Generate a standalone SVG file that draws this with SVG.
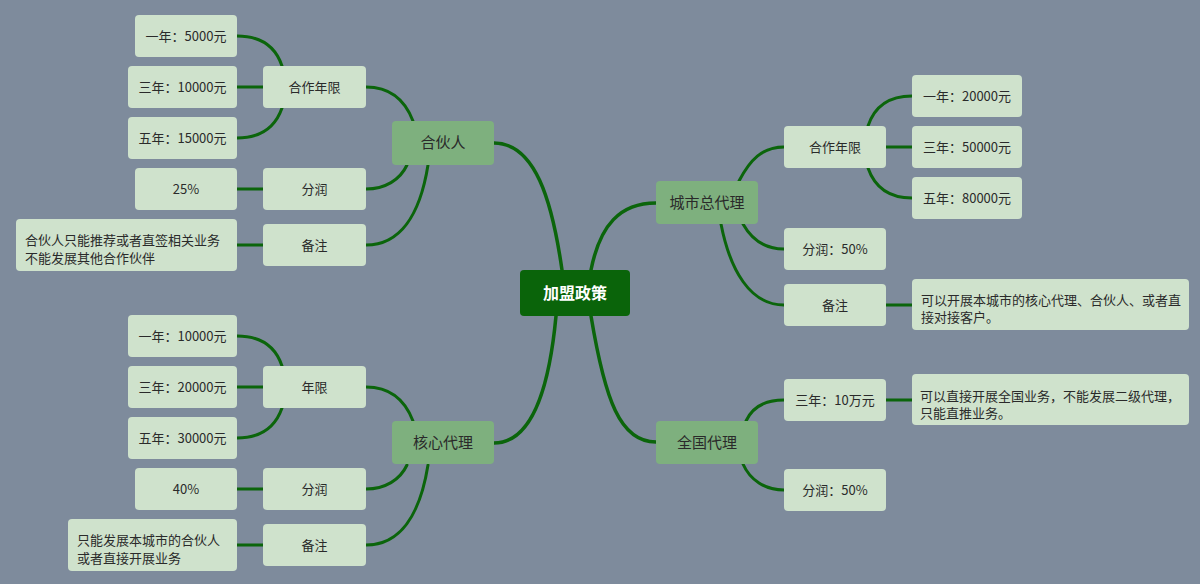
<svg xmlns="http://www.w3.org/2000/svg" width="1200" height="584" viewBox="0 0 1200 584">
<style>
.bg{fill:#7e8b9c}
.leaf{fill:#cfe2cc}
.main{fill:#7eb07e}
.root{fill:#0a640a}
.c{fill:none;stroke:#0b650b;stroke-width:3;stroke-linecap:round}
.cm{fill:none;stroke:#0b650b;stroke-width:3.5;stroke-linecap:round}
text{font-family:"Microsoft YaHei","Noto Sans CJK SC",sans-serif;fill:#2a2a2a}
.t13{font-size:13px;text-anchor:middle}
.n13{font-size:13px}
.t15{font-size:15px;text-anchor:middle}
.rt{font-size:16px;font-weight:bold;fill:#ffffff;text-anchor:middle}
</style>
<rect class="bg" x="0" y="0" width="1200" height="584"/>
<g id="connectors">
<path class="cm" d="M494,143 C535,143 552,200 562,270"/>
<path class="cm" d="M494,443 C535,443 550,380 556,316"/>
<path class="cm" d="M591,270 C600,225 620,203 656,203"/>
<path class="cm" d="M591,316 C605,400 620,442 656,442"/>
<path class="c" d="M413,121 C405,100 390,87 366,87"/>
<path class="c" d="M407,165 C400,180 385,189 366,189"/>
<path class="c" d="M428,165 C420,215 400,245 366,245"/>
<path class="c" d="M282,66 C275,45 260,36 237,36"/>
<path class="c" d="M282,108 C275,128 260,138 237,138"/>
<path class="c" d="M237,87 L263,87"/>
<path class="c" d="M237,189 L263,189"/>
<path class="c" d="M237,245 L263,245"/>
<path class="c" d="M413,421 C405,400 390,387 366,387"/>
<path class="c" d="M407,465 C400,480 385,489 366,489"/>
<path class="c" d="M428,465 C420,515 400,545 366,545"/>
<path class="c" d="M282,366 C275,345 260,336 237,336"/>
<path class="c" d="M282,408 C275,428 260,438 237,438"/>
<path class="c" d="M237,387 L263,387"/>
<path class="c" d="M237,489 L263,489"/>
<path class="c" d="M237,545 L263,545"/>
<path class="c" d="M739,181 C750,160 762,147 784,147"/>
<path class="c" d="M743,224 C752,240 765,249 784,249"/>
<path class="c" d="M721,224 C730,270 750,305 784,305"/>
<path class="c" d="M868,126 C875,105 890,96 912,96"/>
<path class="c" d="M868,168 C875,188 890,198 912,198"/>
<path class="c" d="M886,147 L912,147"/>
<path class="c" d="M886,305 L912,305"/>
<path class="c" d="M746,421 C752,408 765,400 784,400"/>
<path class="c" d="M743,464 C750,480 765,490 784,490"/>
<path class="c" d="M886,400 L912,400"/>
</g>
<g id="root"><rect class="root" x="520" y="270" width="110" height="46" rx="4"/><text class="rt" x="575" y="299">加盟政策</text></g>
<g id="hehuoren"><rect class="main" x="392" y="121" width="102" height="44" rx="4"/><text class="t15" x="443" y="148">合伙人</text></g>
<g id="hhr-nianxian"><rect class="leaf" x="263" y="66" width="103" height="42" rx="4"/><text class="t13" x="314.5" y="91.5">合作年限</text></g>
<g id="hhr-y1"><rect class="leaf" x="135" y="15" width="102" height="42" rx="4"/><text class="t13" x="186" y="40.5">一年：5000元</text></g>
<g id="hhr-y3"><rect class="leaf" x="128" y="66" width="109" height="42" rx="4"/><text class="t13" x="182.5" y="91.5">三年：10000元</text></g>
<g id="hhr-y5"><rect class="leaf" x="128" y="117" width="109" height="42" rx="4"/><text class="t13" x="182.5" y="142.5">五年：15000元</text></g>
<g id="hhr-fenrun"><rect class="leaf" x="263" y="168" width="103" height="42" rx="4"/><text class="t13" x="314.5" y="193.5">分润</text></g>
<g id="hhr-25"><rect class="leaf" x="135" y="168" width="102" height="42" rx="4"/><text class="t13" x="186" y="193.5">25%</text></g>
<g id="hhr-beizhu"><rect class="leaf" x="263" y="224" width="103" height="42" rx="4"/><text class="t13" x="314.5" y="249.5">备注</text></g>
<g id="hhr-note"><rect class="leaf" x="16" y="219" width="221" height="52" rx="4"/><text class="n13" x="25" y="244.5">合伙人只能推荐或者直签相关业务</text><text class="n13" x="25" y="262.5">不能发展其他合作伙伴</text></g>
<g id="hexin"><rect class="main" x="392" y="421" width="102" height="43" rx="4"/><text class="t15" x="443" y="448">核心代理</text></g>
<g id="hx-nianxian"><rect class="leaf" x="263" y="366" width="103" height="42" rx="4"/><text class="t13" x="314.5" y="391.5">年限</text></g>
<g id="hx-y1"><rect class="leaf" x="128" y="315" width="109" height="42" rx="4"/><text class="t13" x="182.5" y="340.5">一年：10000元</text></g>
<g id="hx-y3"><rect class="leaf" x="128" y="366" width="109" height="42" rx="4"/><text class="t13" x="182.5" y="391.5">三年：20000元</text></g>
<g id="hx-y5"><rect class="leaf" x="128" y="417" width="109" height="42" rx="4"/><text class="t13" x="182.5" y="442.5">五年：30000元</text></g>
<g id="hx-fenrun"><rect class="leaf" x="263" y="468" width="103" height="42" rx="4"/><text class="t13" x="314.5" y="493.5">分润</text></g>
<g id="hx-40"><rect class="leaf" x="135" y="468" width="102" height="42" rx="4"/><text class="t13" x="186" y="493.5">40%</text></g>
<g id="hx-beizhu"><rect class="leaf" x="263" y="524" width="103" height="42" rx="4"/><text class="t13" x="314.5" y="549.5">备注</text></g>
<g id="hx-note"><rect class="leaf" x="68" y="519" width="169" height="52" rx="4"/><text class="n13" x="77" y="544.5">只能发展本城市的合伙人</text><text class="n13" x="77" y="562.5">或者直接开展业务</text></g>
<g id="chengshi"><rect class="main" x="656" y="181" width="102" height="43" rx="4"/><text class="t15" x="707" y="208">城市总代理</text></g>
<g id="cs-nianxian"><rect class="leaf" x="784" y="126" width="102" height="42" rx="4"/><text class="t13" x="835" y="151.5">合作年限</text></g>
<g id="cs-y1"><rect class="leaf" x="912" y="75" width="110" height="42" rx="4"/><text class="t13" x="967" y="100.5">一年：20000元</text></g>
<g id="cs-y3"><rect class="leaf" x="912" y="126" width="110" height="42" rx="4"/><text class="t13" x="967" y="151.5">三年：50000元</text></g>
<g id="cs-y5"><rect class="leaf" x="912" y="177" width="110" height="42" rx="4"/><text class="t13" x="967" y="202.5">五年：80000元</text></g>
<g id="cs-fenrun"><rect class="leaf" x="784" y="228" width="102" height="42" rx="4"/><text class="t13" x="835" y="253.5">分润：50%</text></g>
<g id="cs-beizhu"><rect class="leaf" x="784" y="284" width="102" height="42" rx="4"/><text class="t13" x="835" y="309.5">备注</text></g>
<g id="cs-note"><rect class="leaf" x="912" y="279" width="277" height="51" rx="4"/><text class="n13" x="921" y="304.5">可以开展本城市的核心代理、合伙人、或者直</text><text class="n13" x="921" y="322">接对接客户。</text></g>
<g id="quanguo"><rect class="main" x="656" y="421" width="102" height="43" rx="4"/><text class="t15" x="707" y="448">全国代理</text></g>
<g id="qg-y3"><rect class="leaf" x="784" y="379" width="102" height="42" rx="4"/><text class="t13" x="835" y="404.5">三年：10万元</text></g>
<g id="qg-note"><rect class="leaf" x="912" y="374" width="277" height="51" rx="4"/><text class="n13" x="920" y="400.5">可以直接开展全国业务，不能发展二级代理，</text><text class="n13" x="920" y="418">只能直推业务。</text></g>
<g id="qg-fenrun"><rect class="leaf" x="784" y="469" width="102" height="42" rx="4"/><text class="t13" x="835" y="494.5">分润：50%</text></g>
</svg>
